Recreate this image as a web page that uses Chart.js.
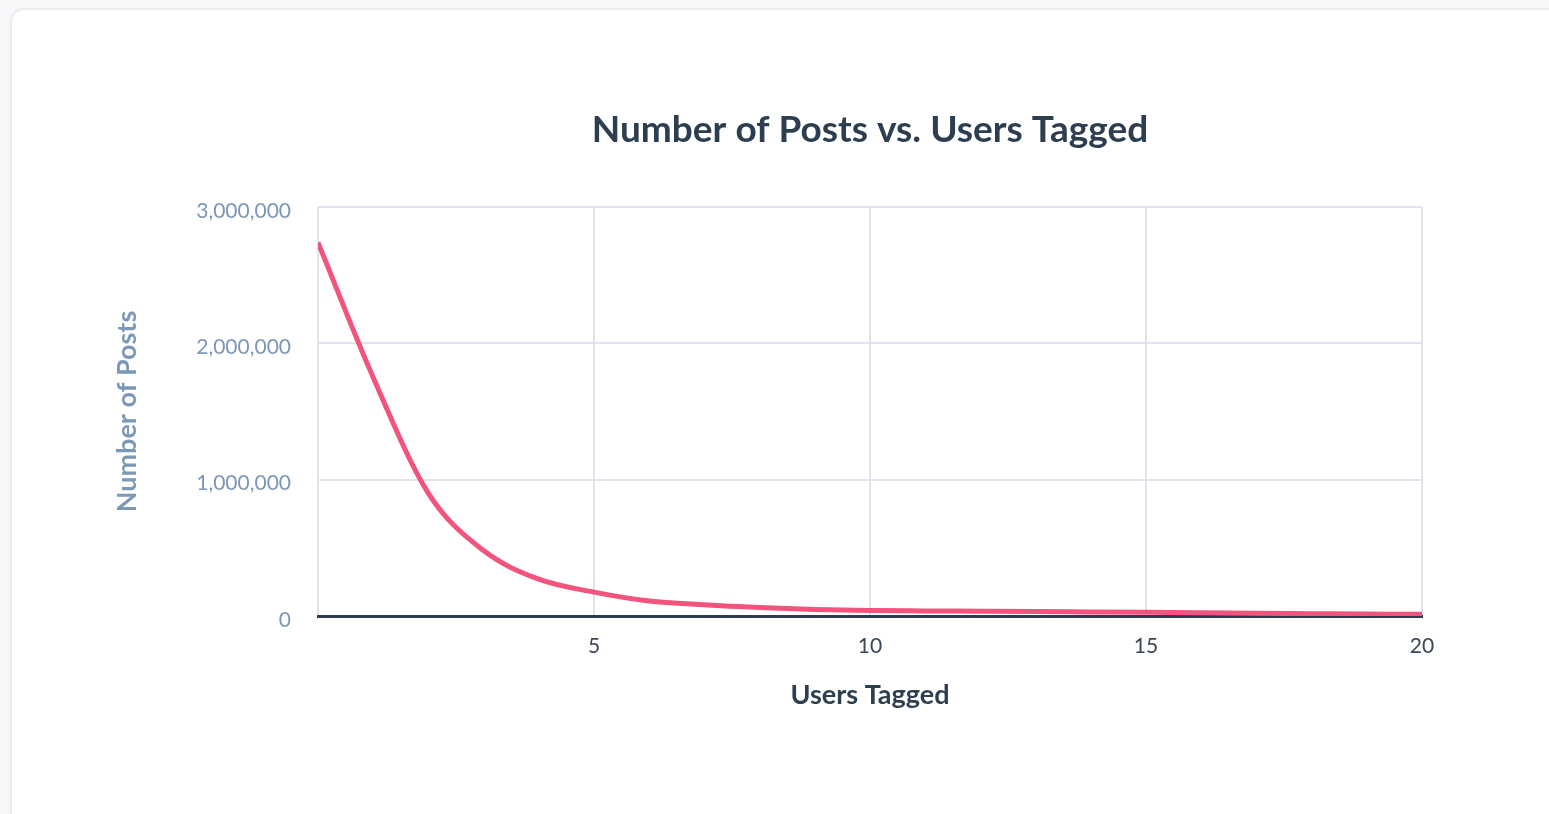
<!DOCTYPE html>
<html>
<head>
<meta charset="utf-8">
<script src="https://cdn.jsdelivr.net/npm/chart.js@4"></script>
<style>
  html, body { margin: 0; padding: 0; background: #f6f7f9; overflow: hidden; }
  .card {
    position: absolute; left: 10px; top: 8px; width: 1600px; height: 900px;
    background: #fff; border: 2px solid #eaecef; border-radius: 14px;
  }
  #wrap { position: absolute; left: 0; top: 0; width: 1549px; height: 814px; }
</style>
</head>
<body>
<div class="card"></div>
<div id="wrap"><canvas id="postsChart"></canvas></div>
<script>
// Data
const usersTagged = [0, 1, 2, 3, 4, 5, 6, 7, 8, 9, 10, 11, 12, 13, 14, 15, 16, 17, 18, 19, 20];
const numPosts = [2740000, 1750000, 900000, 480000, 270000, 175000, 110000, 82000, 62000, 48000,
                  40000, 37000, 35000, 33000, 30000, 27000, 24000, 20000, 17000, 14000, 12000];
const yTicks = [0, 1000000, 2000000, 3000000];
const xTicks = [5, 10, 15, 20];

const FONT = "Lato, 'Open Sans', sans-serif";

const ctx = document.getElementById('postsChart').getContext('2d');
const chart = new Chart(ctx, {
  type: 'line',
  data: {
    datasets: [{
      label: 'Number of Posts',
      data: usersTagged.map((u, i) => ({ x: u, y: numPosts[i] })),
      borderColor: '#f2547d',
      borderWidth: 5,
      pointRadius: 0,
      cubicInterpolationMode: 'monotone',
      fill: false
    }]
  },
  options: {
    responsive: true,
    maintainAspectRatio: false,
    animation: false,
    layout: { padding: { left: 0, right: 127, top: 0, bottom: 0 } },
    plugins: {
      legend: { display: false },
      tooltip: { enabled: false },
      title: {
        display: true,
        text: 'Number of Posts vs. Users Tagged',
        fullSize: false,
        color: '#2d3e50',
        font: { family: FONT, size: 37, weight: 'bold', lineHeight: 1.2 },
        padding: { top: 107.8, bottom: 54.8 }
      }
    },
    scales: {
      x: {
        type: 'linear',
        min: 0,
        max: 20,
        afterBuildTicks: (scale) => { scale.ticks = [0].concat(xTicks).map(v => ({ value: v })); },
        afterFit: (scale) => { scale.height = 198; },
        grid: { color: '#dfe3eb', lineWidth: 2, drawTicks: false },
        border: { display: true, color: '#2d3e50', width: 3 },
        ticks: {
          padding: 18,
          color: '#3a4756',
          font: { family: FONT, size: 21 },
          callback: (v) => (v === 0 ? '' : v)
        },
        title: {
          display: true,
          text: 'Users Tagged',
          color: '#2d3e50',
          font: { family: FONT, size: 27, weight: 'bold', lineHeight: 1.2 },
          padding: { top: 0, bottom: 102.8 }
        }
      },
      y: {
        min: 0,
        max: 3000000,
        afterBuildTicks: (scale) => { scale.ticks = yTicks.map(v => ({ value: v })); },
        afterFit: (scale) => { scale.width = 318; },
        grid: { color: '#dfe3eb', lineWidth: 2, drawTicks: false },
        border: { display: false },
        ticks: {
          padding: 27,
          labelOffset: 4,
          color: '#7c98b6',
          font: { family: FONT, size: 21 },
          callback: (v) => v.toLocaleString('en-US')
        },
        title: {
          display: true,
          text: 'Number of Posts',
          color: '#7c98b6',
          font: { family: FONT, size: 27, weight: 'bold', lineHeight: 1.2 },
          padding: { top: 110.8, bottom: 0 }
        }
      }
    }
  }
});
</script>
</body>
</html>
